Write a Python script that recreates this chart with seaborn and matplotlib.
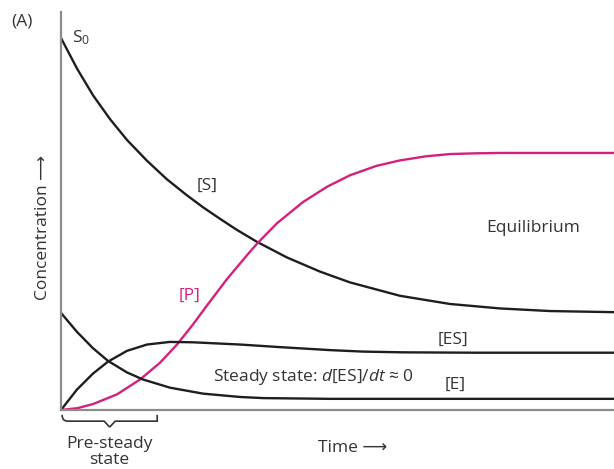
import numpy as np
import pandas as pd
import matplotlib
matplotlib.use("Agg")
import matplotlib.pyplot as plt
from matplotlib.path import Path
from matplotlib.patches import PathPatch
import seaborn as sns

# Reaction progress curves (time in arbitrary units, concentration relative to S0)
t_s = [0.0, 0.289, 0.579, 0.886, 1.193, 1.555, 1.917, 2.278, 2.568, 2.875, 3.183, 3.544,
       4.087, 4.684, 5.226, 6.130, 7.034, 7.939, 8.843, 10.0]
c_s = [1.000, 0.918, 0.846, 0.782, 0.726, 0.670, 0.620, 0.577, 0.545, 0.514, 0.484, 0.452,
       0.410, 0.372, 0.343, 0.307, 0.285, 0.273, 0.266, 0.263]

t_p = [0.0, 0.30, 0.579, 1.013, 1.429, 1.790, 2.098, 2.387, 2.640, 3.002, 3.363, 3.544,
       3.906, 4.376, 4.810, 5.226, 5.700, 6.130, 6.600, 7.034, 7.500, 7.939, 10.0]
c_p = [0.000, 0.005, 0.016, 0.042, 0.082, 0.127, 0.176, 0.230, 0.281, 0.352, 0.416, 0.447,
       0.502, 0.559, 0.600, 0.631, 0.656, 0.671, 0.682, 0.688, 0.690, 0.691, 0.691]

t_es = [0.0, 0.289, 0.579, 0.850, 1.193, 1.555, 1.971, 2.387, 3.237, 3.960, 4.864, 5.461,
        6.200, 7.500, 10.0]
c_es = [0.000, 0.055, 0.098, 0.130, 0.159, 0.176, 0.183, 0.182, 0.176, 0.169, 0.161, 0.157,
        0.155, 0.154, 0.154]

t_e = [0.0, 0.289, 0.579, 0.850, 1.193, 1.483, 1.971, 2.568, 3.237, 3.653, 4.864, 10.0]
c_e = [0.261, 0.210, 0.166, 0.132, 0.101, 0.082, 0.060, 0.044, 0.035, 0.032, 0.030, 0.030]

curves = pd.concat([
    pd.DataFrame({"time": t_s, "conc": c_s, "species": "S"}),
    pd.DataFrame({"time": t_p, "conc": c_p, "species": "P"}),
    pd.DataFrame({"time": t_es, "conc": c_es, "species": "ES"}),
    pd.DataFrame({"time": t_e, "conc": c_e, "species": "E"}),
], ignore_index=True)

palette = {"S": "#1e1e1e", "P": "#d4207c", "ES": "#1e1e1e", "E": "#1e1e1e"}

sns.set_theme(style="white")
plt.rcParams["font.family"] = ["Open Sans", "DejaVu Sans"]
plt.rcParams["mathtext.fontset"] = "custom"
plt.rcParams["mathtext.rm"] = "Open Sans"
plt.rcParams["mathtext.it"] = "Open Sans:italic"

W, H = 614, 469
fig = plt.figure(figsize=(W / 100, H / 100), dpi=100)
ax = fig.add_axes([61 / W, (H - 410) / H, (614 - 61) / W, (410 - 12) / H])

for name, grp in curves.groupby("species", sort=False):
    sns.lineplot(data=grp, x="time", y="conc", color=palette[name], lw=1.7,
                 ax=ax, legend=False, sort=False, estimator=None)

ax.set_xlim(0, 10.0)
ax.set_ylim(0, 398 / 372)
ax.set_xticks([])
ax.set_yticks([])
ax.set_xlabel("")
ax.set_ylabel("")
for side in ("top", "right"):
    ax.spines[side].set_visible(False)
for side in ("left", "bottom"):
    ax.spines[side].set_color("#8c8c8c")
    ax.spines[side].set_linewidth(1.6)

txt = dict(color="#333333", fontsize=12.5, ha="center", va="center")
ax.text(0.36, 1.0, "S$_0$", clip_on=False, **txt)
ax.text(2.64, 0.602, "[S]", **txt)
ax.text(2.33, 0.306, "[P]", **{**txt, "color": "#d4207c"})
ax.text(8.54, 0.489, "Equilibrium", **txt)
ax.text(7.09, 0.188, "[ES]", **txt)
ax.text(4.57, 0.089, "Steady state: $d$[ES]/$dt$ \u2248 0", **txt)
ax.text(7.13, 0.067, "[E]", **txt)

fig.text(22 / W, 1 - 21 / H, "(A)", **txt)
fig.text(43 / W, 1 - 227 / H, "Concentration \u27f6", rotation=90, **txt)
fig.text(353 / W, 1 - 448 / H, "Time \u27f6", **txt)
fig.text(109 / W, 1 - 452 / H, "Pre-steady\nstate", linespacing=1.0, **txt)

# Curly brace under the pre-steady-state interval
x0, x1 = 0.02, 1.74
xm = (x0 + x1) / 2
y_top, y_mid, y_tip = -0.013, -0.030, -0.046
verts = [(x0, y_top), (x0, y_mid), (x0 + 0.1, y_mid), (x0 + 0.2, y_mid),
         (xm - 0.1, y_mid), (xm - 0.1, y_mid), (xm, y_tip),
         (xm, y_tip), (xm + 0.1, y_mid), (xm + 0.1, y_mid),
         (x1 - 0.2, y_mid), (x1 - 0.1, y_mid), (x1, y_mid), (x1, y_top)]
codes = [Path.MOVETO, Path.CURVE3, Path.CURVE3, Path.LINETO,
         Path.LINETO, Path.CURVE3, Path.CURVE3,
         Path.MOVETO, Path.CURVE3, Path.CURVE3,
         Path.LINETO, Path.CURVE3, Path.CURVE3, Path.LINETO]
ax.add_patch(PathPatch(Path(verts, codes), fill=False, edgecolor="#333333",
                       lw=1.2, clip_on=False))

fig.savefig("out.png", dpi=100)
